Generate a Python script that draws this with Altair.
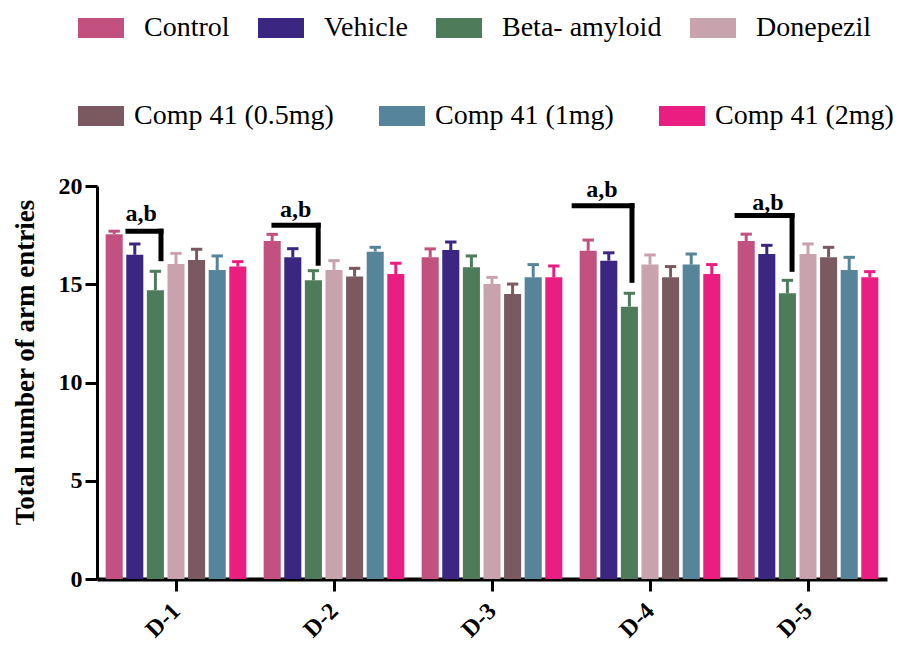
import altair as alt
import pandas as pd

days = [1, 2, 3, 4, 5]
groups = ["Control", "Vehicle", "Beta- amyloid", "Donepezil",
          "Comp 41 (0.5mg)", "Comp 41 (1mg)", "Comp 41 (2mg)"]
colors = ["#c2517f", "#3b2782", "#4e7b5a", "#c8a3ad", "#7a5961", "#56849a", "#ea1e80"]

control = [17.55, 17.2, 16.37, 16.7, 17.2]
vehicle = [16.5, 16.37, 16.74, 16.2, 16.54]
beta = [14.7, 15.2, 15.86, 13.86, 14.54]
donepezil = [16.03, 15.73, 15.01, 16.0, 16.54]
comp05 = [16.23, 15.39, 14.5, 15.35, 16.37]
comp1 = [15.72, 16.66, 15.35, 16.0, 15.72]
comp2 = [15.9, 15.52, 15.35, 15.52, 15.35]

err_control = [0.15, 0.34, 0.43, 0.55, 0.35]
err_vehicle = [0.55, 0.44, 0.41, 0.4, 0.44]
err_beta = [0.96, 0.49, 0.58, 0.68, 0.66]
err_donepezil = [0.54, 0.47, 0.34, 0.49, 0.51]
err_comp05 = [0.55, 0.42, 0.51, 0.55, 0.51]
err_comp1 = [0.72, 0.22, 0.65, 0.54, 0.65]
err_comp2 = [0.25, 0.55, 0.58, 0.48, 0.29]

# significance brackets (x in day units, y in data units)
br_start = [0.696, 1.62, 3.52, 4.551]
br_end = [0.905, 1.90, 3.886, 4.899]
br_top = [17.7, 18.0, 19.0, 18.5]
br_bottom = [16.3, 16.07, 15.2, 15.76]
br_label_x = [0.78, 1.758, 3.696, 4.747]
br_label_y = [18.6, 18.8, 19.8, 19.15]
br_text = ["a,b", "a,b", "a,b", "a,b"]

means = [control, vehicle, beta, donepezil, comp05, comp1, comp2]
errs = [err_control, err_vehicle, err_beta, err_donepezil, err_comp05, err_comp1, err_comp2]

n = len(groups)
step = 0.1304
half = 0.054
cap = 0.036
rows = []
for gi, g in enumerate(groups):
    for di, d in enumerate(days):
        c = d + (gi - (n - 1) / 2) * step
        m = means[gi][di]
        rows.append(dict(group=g, day=d, left=c - half, right=c + half, xc=c,
                         cl=c - cap, cr=c + cap, base=0.0, mean=m,
                         top=m + errs[gi][di]))
df = pd.DataFrame(rows)

br = pd.DataFrame(dict(bx1=br_start, bx2=br_end, ytop=br_top, ybot=br_bottom,
                       lx=br_label_x, ly=br_label_y, label=br_text))

FONT = "Liberation Serif"
xscale = alt.Scale(domain=[0.5, 5.5], nice=False, zero=False)
yscale = alt.Scale(domain=[0, 20], nice=False)
fill_scale = alt.Scale(domain=groups, range=colors)
# same mapping, listed in another order so the second legend stays separate
stroke_scale = alt.Scale(domain=groups[4:] + groups[:4], range=colors[4:] + colors[:4])

base = alt.Chart(df)

bars = base.mark_rect().encode(
    x=alt.X("left:Q", scale=xscale, axis=alt.Axis(
        values=days, labelExpr="'D-' + datum.value", title=None, grid=False,
        labelAngle=315, labelAlign="right", labelBaseline="middle",
        labelFont=FONT, labelFontSize=24, labelFontWeight="bold",
        labelColor="black", labelPadding=16, tickSize=12, tickWidth=3,
        tickColor="black", domainColor="black", domainWidth=4)),
    x2="right:Q",
    y=alt.Y("mean:Q", scale=yscale, axis=alt.Axis(
        values=[0, 5, 10, 15, 20], title="Total number of arm entries", grid=False,
        titleFont=FONT, titleFontSize=27, titleFontWeight="bold", titleColor="black",
        titlePadding=19, titleY=176,
        labelFont=FONT, labelFontSize=24, labelFontWeight="bold", labelColor="black",
        labelPadding=3, tickSize=12, tickWidth=3, tickColor="black",
        domainColor="black", domainWidth=3)),
    y2="base:Q",
    fill=alt.Fill("group:N", scale=fill_scale, sort=groups, legend=alt.Legend(
        title=None, orient="none", legendX=-19, legendY=-181, direction="horizontal",
        values=groups[:4], columnPadding=28,
        symbolType="M-1,-0.43L1,-0.43L1,0.43L-1,0.43Z", symbolSize=2116,
        symbolStrokeWidth=0, symbolOpacity=1, labelFont=FONT, labelFontSize=28,
        labelColor="black", labelOffset=20, labelLimit=400)),
)

stems = base.mark_rule(strokeWidth=3).encode(
    x=alt.X("xc:Q", scale=xscale),
    y=alt.Y("mean:Q", scale=yscale),
    y2="top:Q",
    stroke=alt.Stroke("group:N", scale=stroke_scale, legend=alt.Legend(
        title=None, orient="none", legendX=-29, legendY=-103, direction="horizontal",
        values=groups[4:], columnPadding=5,
        symbolType="M-1,0L1,0", symbolSize=2116, symbolStrokeWidth=20,
        symbolOpacity=1, labelFont=FONT, labelFontSize=28, labelColor="black",
        labelOffset=0, labelLimit=400)),
)
caps = base.mark_rule(strokeWidth=3).encode(
    x=alt.X("cl:Q", scale=xscale),
    x2="cr:Q",
    y=alt.Y("top:Q", scale=yscale),
    stroke=alt.Stroke("group:N", scale=stroke_scale),
)

bb = alt.Chart(br)
hline = bb.mark_rule(strokeWidth=5, color="black", strokeCap="square").encode(
    x=alt.X("bx1:Q", scale=xscale), x2="bx2:Q",
    y=alt.Y("ytop:Q", scale=yscale))
vline = bb.mark_rule(strokeWidth=5, color="black", strokeCap="square").encode(
    x=alt.X("bx2:Q", scale=xscale),
    y=alt.Y("ybot:Q", scale=yscale), y2="ytop:Q")
labels = bb.mark_text(font=FONT, fontSize=24, fontWeight="bold", color="black",
                      baseline="middle", align="center").encode(
    x=alt.X("lx:Q", scale=xscale),
    y=alt.Y("ly:Q", scale=yscale), text="label:N")

chart = alt.layer(bars, stems, caps, hline, vline, labels).properties(
    width=790, height=393,
    autosize=alt.AutoSizeParams(type="none"),
    padding={"left": 97, "top": 186, "right": 35, "bottom": 72},
    background="white",
).configure_view(stroke=None)

chart.save("out.html", embed_options={"renderer": "svg", "actions": False})
